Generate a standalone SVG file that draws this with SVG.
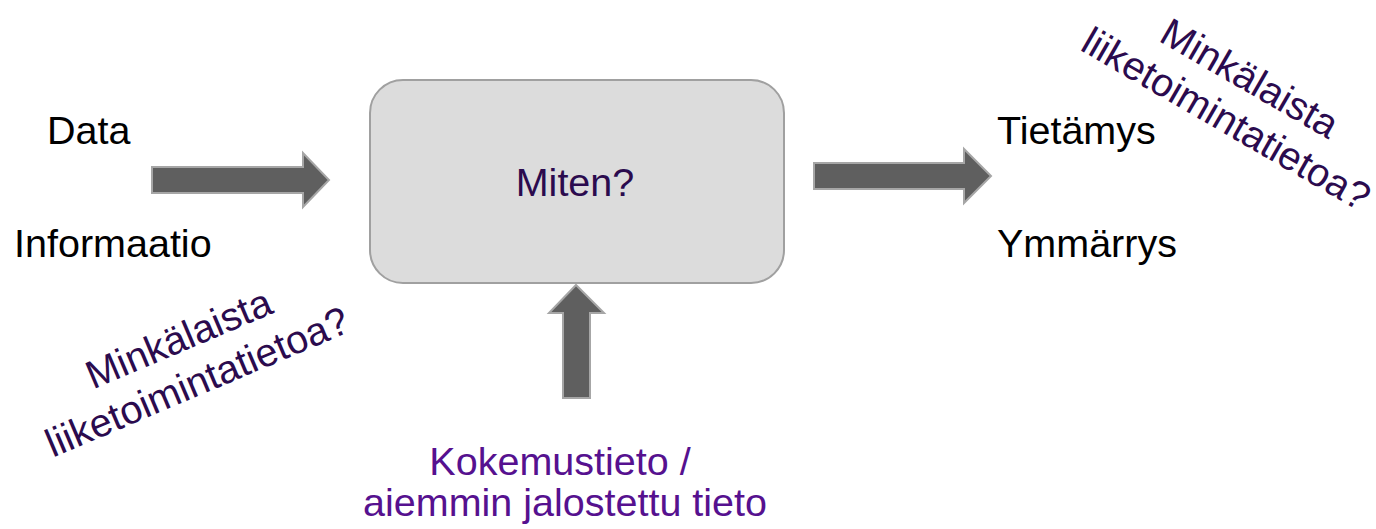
<svg xmlns="http://www.w3.org/2000/svg" width="1376" height="529" viewBox="0 0 1376 529">
<style>
text { font-family: "Liberation Sans", Arial, sans-serif; font-size: 39.5px; }
.lbl { fill: #000000; }
.dark { fill: #2b0b4e; }
.pur { fill: #56118f; }
.arrow { fill: #5f5f5f; stroke: #a6a6a6; stroke-width: 2; stroke-linejoin: miter; }
</style>
<rect width="1376" height="529" fill="#ffffff"/>
<g id="connectors">
  <polygon class="arrow" points="152,167 303,167 303,153 329,180 303,207 303,193 152,193"/>
  <polygon class="arrow" points="814,163 964,163 964,149 991,176 964,203 964,189 814,189"/>
  <polygon class="arrow" points="563,398 563,313 549,313 576,285 604,313 590,313 590,398"/>
</g>
<g id="process">
  <rect x="370" y="80" width="414" height="203" rx="33" ry="33" fill="#dcdcdc" stroke="#a0a0a0" stroke-width="2"/>
  <text class="dark" x="575" y="196" text-anchor="middle">Miten?</text>
</g>
<g id="inputs">
  <text class="lbl" x="47" y="144">Data</text>
  <text class="lbl" x="14" y="257">Informaatio</text>
</g>
<g id="outputs">
  <text class="lbl" x="997" y="144">Tietämys</text>
  <text class="lbl" x="997" y="257">Ymmärrys</text>
</g>
<g id="experience">
  <text class="pur" x="560" y="475" text-anchor="middle">Kokemustieto /</text>
  <text class="pur" x="565" y="516" text-anchor="middle">aiemmin jalostettu tieto</text>
</g>
<g id="question-left" transform="translate(184,351) rotate(-23)">
  <text class="dark" x="0" y="0" text-anchor="middle">Minkälaista</text>
  <text class="dark" x="0" y="47" text-anchor="middle">liiketoimintatietoa?</text>
</g>
<g id="question-right" transform="translate(1243,90) rotate(30)">
  <text class="dark" x="0" y="0" text-anchor="middle">Minkälaista</text>
  <text class="dark" x="0" y="47" text-anchor="middle">liiketoimintatietoa?</text>
</g>
</svg>
